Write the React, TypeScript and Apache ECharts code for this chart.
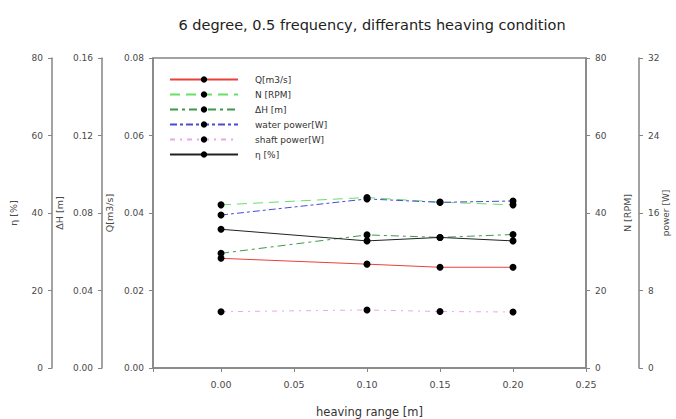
import React, { useEffect, useRef } from "react";
import * as echarts from "echarts";

const titleText = "6 degree, 0.5 frequency, differants heaving condition";
const heaving = [0, 0.1, 0.15, 0.2];
const flowQ = [0.0283, 0.0268, 0.026, 0.026];
const speedN = [42.1, 44.0, 42.8, 42.1];
const headDH = [0.0592, 0.0687, 0.0674, 0.0689];
const waterPower = [15.79, 17.45, 17.1, 17.24];
const shaftPower = [5.81, 5.99, 5.83, 5.78];
const efficiency = [35.8, 32.8, 33.7, 32.8];

const seriesNames = ["Q[m3/s]", "N [RPM]", "\u0394H [m]", "water power[W]", "shaft power[W]", "\u03b7 [%]"];

const AXIS_COLOR = "#858585";
const LABEL_COLOR = "#4a4a4a";
const FONT = "DejaVu Sans";

function pairs(ys: number[]) {
  return heaving.map((x, i) => [x, ys[i]]);
}

function yAxisDef(opts: any) {
  return {
    type: "value",
    position: opts.position,
    offset: opts.offset,
    min: opts.min,
    max: opts.max,
    interval: opts.interval,
    name: opts.name,
    nameLocation: "middle",
    nameRotate: 90,
    nameGap: opts.nameGap,
    nameMoveOverlap: false,
    nameTextStyle: { color: LABEL_COLOR, fontSize: opts.nameSize || 9.5, fontFamily: FONT },
    axisLine: { show: true, onZero: false, lineStyle: { color: AXIS_COLOR, width: 1.5 } },
    axisTick: { show: true, length: 4, lineStyle: { color: AXIS_COLOR, width: 1 } },
    axisLabel: {
      color: LABEL_COLOR,
      fontSize: 9,
      fontFamily: FONT,
      margin: 9,
      formatter: (v: number) => v.toFixed(opts.digits),
    },
    splitLine: { show: false },
  };
}

export default function App() {
  const ref = useRef<HTMLDivElement>(null);
  useEffect(() => {
    document.body.style.margin = "0";
    if (!ref.current) return;
    const chart = echarts.init(ref.current, undefined, { renderer: "svg" });
    const markerStyle = { color: "#000" };
    const mk = (name: string, data: number[], yIdx: number, color: string, type: any) => ({
      name,
      type: "line",
      yAxisIndex: yIdx,
      data: pairs(data),
      symbol: "circle",
      symbolSize: 7,
      itemStyle: markerStyle,
      lineStyle: { color, width: 1, type },
      z: 3,
    });
    chart.setOption({
      animation: false,
      backgroundColor: "#fff",
      title: {
        text: titleText,
        left: 367,
        top: 12,
        textAlign: "center",
        textStyle: { fontSize: 14.5, fontWeight: "normal", color: "#222", fontFamily: FONT },
      },
      grid: {
        left: 153,
        right: 90,
        top: 58,
        bottom: 51,
        show: true,
        borderColor: AXIS_COLOR,
        borderWidth: 1.5,
        containLabel: false,
        outerBoundsMode: "none",
      },
      legend: {
        orient: "vertical",
        left: 164,
        top: 69,
        itemWidth: 68,
        itemHeight: 8,
        itemGap: 4,
        data: seriesNames,
        textStyle: { fontSize: 9, color: "#333", fontFamily: FONT, padding: [0, 0, 0, 12], lineHeight: 11 },
      },
      xAxis: {
        type: "value",
        min: -0.0466,
        max: 0.25,
        name: "heaving range [m]",
        nameLocation: "middle",
        nameGap: 38,
        nameMoveOverlap: false,
        nameTextStyle: { color: "#333", fontSize: 11.5, fontFamily: FONT },
        axisLine: { onZero: false, lineStyle: { color: AXIS_COLOR, width: 1.5 } },
        axisTick: { length: 4, lineStyle: { color: AXIS_COLOR } },
        axisLabel: {
          color: LABEL_COLOR,
          fontSize: 9.5,
          fontFamily: FONT,
          margin: 11,
          formatter: (v: number) => {
            const k = Math.round(v / 0.05);
            if (v < -1e-9 || Math.abs(v - k * 0.05) > 1e-6) return "";
            return (k * 0.05).toFixed(2);
          },
        },
        splitLine: { show: false },
      },
      yAxis: [
        yAxisDef({ position: "left", offset: 0, min: 0, max: 0.08, interval: 0.02, name: "Q[m3/s]", nameGap: 39, digits: 2 }),
        yAxisDef({ position: "left", offset: 51, min: 0, max: 0.16, interval: 0.04, name: "\u0394H [m]", nameGap: 38, digits: 2 }),
        yAxisDef({ position: "left", offset: 101, min: 0, max: 80, interval: 20, name: "\u03b7 [%]", nameGap: 34, digits: 0 }),
        yAxisDef({ position: "right", offset: 0, min: 0, max: 80, interval: 20, name: "N [RPM]", nameGap: 36, digits: 0 }),
        yAxisDef({ position: "right", offset: 53, min: 0, max: 32, interval: 8, name: "power [W]", nameGap: 22, nameSize: 9, digits: 0 }),
      ],
      series: [
        mk(seriesNames[0], flowQ, 0, "#e8413c", "solid"),
        mk(seriesNames[1], speedN, 3, "#66e066", [10, 6]),
        mk(seriesNames[2], headDH, 1, "#3c9a4a", [8, 4, 3, 4]),
        mk(seriesNames[3], waterPower, 4, "#4a4ad8", [7, 3, 3, 3]),
        mk(seriesNames[4], shaftPower, 4, "#e6a8e6", [5, 5, 2, 5]),
        mk(seriesNames[5], efficiency, 2, "#222", "solid"),
      ],
    });
    return () => chart.dispose();
  }, []);
  return <div ref={ref} style={{ width: 676, height: 419 }} />;
}
